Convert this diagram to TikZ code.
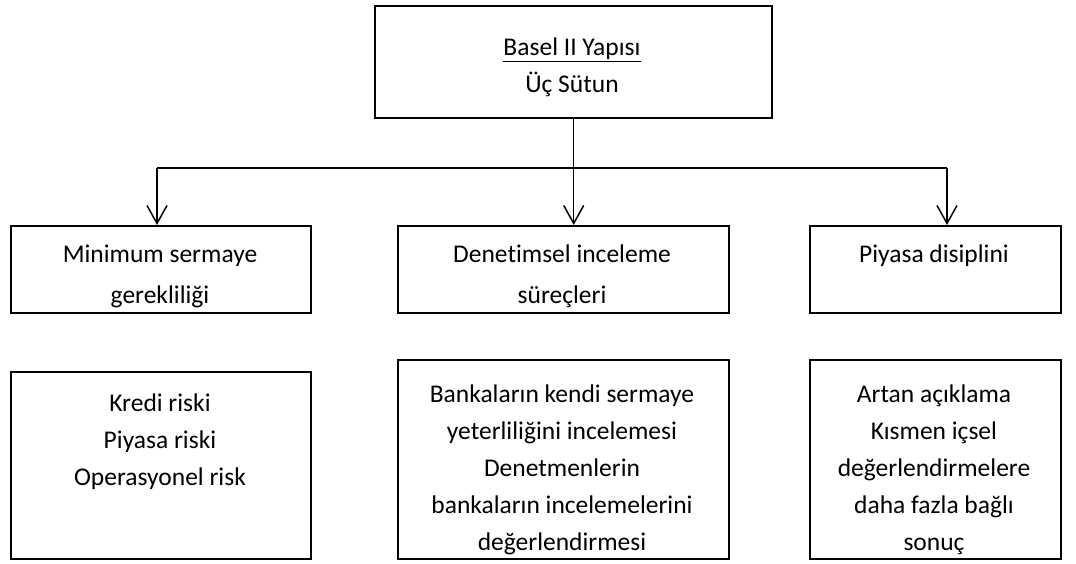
\documentclass[tikz,border=0pt]{standalone}
\usepackage{fontspec}
\setmainfont{Carlito}[Ligatures=NoCommon]
\usetikzlibrary{arrows.meta,positioning}

\begin{document}
\begin{tikzpicture}[x=1pt, y=-1pt, >={Straight Barb[length=18pt,width=20pt]},
    box/.style={draw, line width=2.4pt, inner sep=0pt, anchor=north west},
    txt/.style={align=center, inner sep=0pt, font=\fontsize{25.5}{37}\selectfont},
    widetxt/.style={txt, font=\fontsize{25.5}{41}\selectfont},
    conn/.style={line width=1.5pt}]
    \useasboundingbox (0,0) rectangle (1076,563);
    % top box
    \node[box, minimum width=397pt, minimum height=112pt] (top) at (374,5) {};
    \node[txt] (toptxt) at (572,67) {\underline{Basel II Yapısı}\\Üç Sütun};
    % the three pillars
    \node[box, minimum width=300pt, minimum height=87pt] (p1) at (10,225) {};
    \node[box, minimum width=331pt, minimum height=87pt] (p2) at (397,225) {};
    \node[box, minimum width=251pt, minimum height=87pt] (p3) at (809,225) {};
    \begin{scope}
        \clip (p1.north west) rectangle (p1.south east);
        \node[widetxt, anchor=north] (p1txt) at (160,245) {Minimum sermaye\\gerekliliği};
    \end{scope}
    \begin{scope}
        \clip (p2.north west) rectangle (p2.south east);
        \node[widetxt, anchor=north] (p2txt) at (562,245) {Denetimsel inceleme\\süreçleri};
    \end{scope}
    \node[txt, anchor=north] (p3txt) at (934,245) {Piyasa disiplini};
    % details
    \node[box, minimum width=300pt, minimum height=187pt] (d1) at (10,371) {};
    \node[box, minimum width=331pt, minimum height=199pt] (d2) at (397,359) {};
    \node[box, minimum width=251pt, minimum height=199pt] (d3) at (809,359) {};
    \node[txt, anchor=north] (d1txt) at (160,394) {Kredi riski\\Piyasa riski\\Operasyonel risk};
    \node[txt, anchor=north] (d2txt) at (562,385) {Bankaların kendi sermaye\\yeterliliğini incelemesi\\Denetmenlerin\\bankaların incelemelerini\\değerlendirmesi};
    \node[txt, anchor=north] (d3txt) at (934,385) {Artan açıklama\\Kısmen içsel\\değerlendirmelere\\daha fazla bağlı\\sonuç};
    % connectors
    \coordinate (jl) at (157,168);
    \coordinate (jr) at (947,168);
    \draw[conn] (jl) -- (jr);
    \draw[conn,->] (jl) -- (jl |- p1.north);
    \draw[conn,->] (top.south) -- (top.south |- p2.north);
    \draw[conn,->] (jr) -- (jr |- p3.north);
\end{tikzpicture}
\end{document}
